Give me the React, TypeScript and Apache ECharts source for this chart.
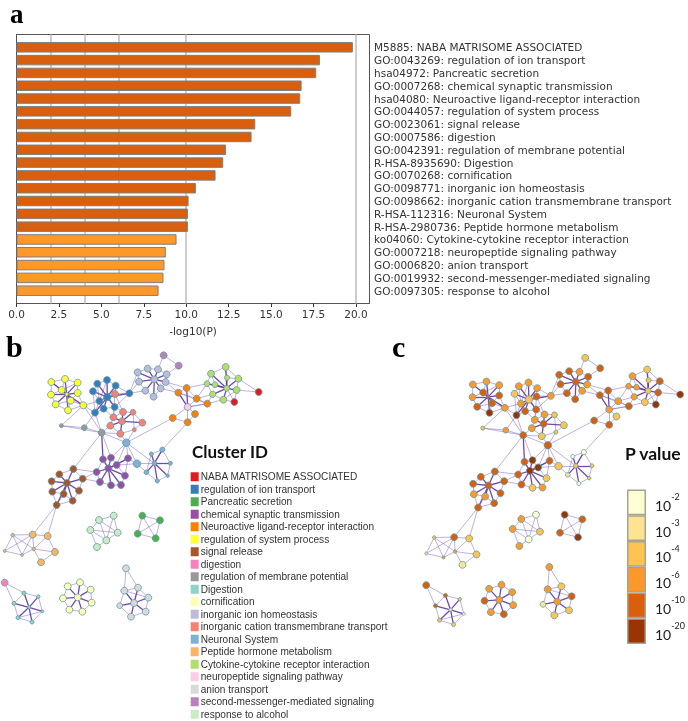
import React, { useEffect, useRef } from "react";
import * as echarts from "echarts";

// ---------- panel a ----------
const termLabels = [
  "M5885: NABA MATRISOME ASSOCIATED",
  "GO:0043269: regulation of ion transport",
  "hsa04972: Pancreatic secretion",
  "GO:0007268: chemical synaptic transmission",
  "hsa04080: Neuroactive ligand-receptor interaction",
  "GO:0044057: regulation of system process",
  "GO:0023061: signal release",
  "GO:0007586: digestion",
  "GO:0042391: regulation of membrane potential",
  "R-HSA-8935690: Digestion",
  "GO:0070268: cornification",
  "GO:0098771: inorganic ion homeostasis",
  "GO:0098662: inorganic cation transmembrane transport",
  "R-HSA-112316: Neuronal System",
  "R-HSA-2980736: Peptide hormone metabolism",
  "ko04060: Cytokine-cytokine receptor interaction",
  "GO:0007218: neuropeptide signaling pathway",
  "GO:0006820: anion transport",
  "GO:0019932: second-messenger-mediated signaling",
  "GO:0097305: response to alcohol",
];
const termValues = [19.82, 17.88, 17.66, 16.8, 16.72, 16.19, 14.07, 13.85, 12.34, 12.18, 11.73, 10.57, 10.14, 10.1, 10.1, 9.43, 8.8, 8.72, 8.66, 8.37];
const termBins = [4, 4, 4, 4, 4, 4, 4, 4, 4, 4, 4, 4, 4, 4, 4, 3, 3, 3, 3, 3];
const referenceLines = [2, 4, 6, 10, 20];

// ---------- colour scale (panel c and the bars) ----------
const pLabels = ["-2", "-3", "-4", "-6", "-10", "-20"];
const pColors = ["#FFFFD4", "#FEE391", "#FEC44F", "#FE9929", "#D95F0E", "#993404"];
const pSteps = [1, 1, 1, 1, 1, 1];

// ---------- clusters ----------
const clusterNames = [
  "NABA MATRISOME ASSOCIATED", "regulation of ion transport", "Pancreatic secretion", "chemical synaptic transmission",
  "Neuroactive ligand-receptor interaction", "regulation of system process", "signal release", "digestion",
  "regulation of membrane potential", "Digestion", "cornification", "inorganic ion homeostasis",
  "inorganic cation transmembrane transport", "Neuronal System", "Peptide hormone metabolism",
  "Cytokine-cytokine receptor interaction", "neuropeptide signaling pathway", "anion transport",
  "second-messenger-mediated signaling", "response to alcohol",
];
const clusterKeys = ["R", "I", "P", "S", "N", "Y", "B", "G", "M", "D", "C", "H", "T", "U", "O", "K", "E", "A", "Q", "L"];
const clusterColors = ["#E41A1C", "#377EB8", "#4DAF4A", "#984EA3", "#FF7F00", "#FFFF33", "#A65628", "#F781BF", "#999999", "#8DD3C7", "#FFFFB3", "#BEBADA", "#FB8072", "#80B1D3", "#FDB462", "#B3DE69", "#FCCDE5", "#D9D9D9", "#BC80BD", "#CCEBC5"];

// node: layout x, layout y, size, P-value class
const nodesR = [[776, 171, 6, 5], [703, 201, 6, 5]];
const nodesI = [[292, 146, 6, 3], [321, 135, 6, 3], [347, 152, 6, 3], [279, 169, 6, 2], [322, 186, 6.5, 2], [298, 198, 6, 3], [388, 175, 6, 3], [344, 216, 6, 4], [311, 221, 6, 4], [285, 233, 6, 5]];
const nodesP = [[427, 542, 6, 5], [480, 556, 6, 4], [413, 596, 6, 4], [467, 610, 6, 5]];
const nodesS = [[309, 373, 6, 4], [333, 368, 6, 5], [384, 370, 6, 4], [290, 411, 6, 4], [325, 400, 6, 5], [350, 390, 6, 5], [375, 422, 6, 2], [300, 441, 6, 4], [333, 451, 6, 2], [363, 450, 6, 3]];
const nodesN = [[535, 173, 6, 4], [560, 159, 6, 4], [590, 191, 6, 3], [622, 206, 6, 4], [518, 249, 6, 4], [585, 237, 6, 2], [563, 262, 6, 4]];
const nodesY = [[154, 141, 6, 3], [195, 132, 6, 3], [233, 143, 6, 3], [185, 165, 6, 4], [153, 179, 6, 3], [233, 174, 6, 4], [167, 208, 6, 4], [204, 226, 6, 5], [250, 211, 6, 3], [212, 197, 6, 4], [200, 178, 3, 4]];
const nodesB = [[178, 418, 6, 4], [220, 402, 6, 4], [155, 439, 6, 4], [201, 444, 6, 4], [248, 431, 6, 4], [157, 470, 6, 3], [237, 467, 6, 4], [191, 477, 6, 3], [218, 497, 6, 4], [170, 510, 6, 4]];
const nodesG = [[14, 743, 6, 4]];
const nodesM = [[184, 272, 3.5, 2], [253, 278, 5, 3], [305, 293, 6, 4]];
const nodesD = [[72, 774, 3.5, 4], [115, 785, 3, 2], [42, 805, 3.5, 4], [87, 817, 3, 1], [127, 829, 2.5, 0], [54, 848, 3.5, 2], [96, 861, 3.5, 2]];
const nodesC = [[203, 754, 6, 3], [240, 742, 6, 3], [272, 764, 6, 3], [189, 790, 6, 4], [233, 787, 6, 3], [275, 803, 6, 3], [208, 824, 6, 3], [247, 830, 6, 4]];
const nodesH = [[413, 112, 6, 4], [443, 101, 6, 4], [474, 103, 6, 3], [500, 118, 6, 4], [417, 140, 6, 4], [463, 133, 6, 4], [497, 141, 6, 3], [436, 167, 6, 4], [482, 160, 6, 3], [461, 185, 6, 4]];
const nodesT = [[345, 177, 6, 4], [340, 247, 6, 3], [369, 231, 6, 3], [399, 232, 5, 2], [366, 259, 6, 4], [427, 263, 6, 2], [331, 272, 6, 3], [361, 296, 6, 2], [403, 284, 3.5, 2]];
const nodesU = [[379, 323, 6.5, 4], [411, 386, 6.5, 2], [439, 412, 4, 1], [463, 385, 4, 2], [487, 344, 4.5, 0], [511, 385, 3.5, 2], [454, 357, 3.5, 0], [472, 438, 3.5, 0], [503, 422, 3, 2]];
const nodesO = [[98, 599, 6, 4], [143, 603, 6, 2], [165, 651, 6, 2], [123, 682, 6, 1], [38, 600, 3, 2], [14, 648, 2.5, 1], [66, 660, 2.5, 3], [101, 642, 3, 3]];
const nodesK = [[633, 116, 6, 3], [677, 96, 6, 2], [715, 131, 6, 4], [621, 146, 5, 3], [645, 149, 5, 3], [681, 128, 4.5, 2], [680, 160, 5, 2], [710, 165, 6, 4], [638, 178, 5.5, 3], [670, 194, 6, 2]];
const nodesE = [[563, 216, 6, 3]];
const nodesA = [[378, 700, 6, 3], [373, 767, 6, 3], [414, 758, 6, 2], [445, 788, 6, 4], [402, 804, 6, 3], [359, 812, 5, 1], [437, 830, 6, 2], [393, 845, 6, 2]];
const nodesQ = [[491, 61, 6, 2], [536, 92, 6, 4]];
const nodesL = [[297, 555, 6, 3], [341, 542, 6, 0], [271, 585, 6, 3], [353, 593, 6, 2], [319, 616, 6, 0], [291, 636, 6, 3]];
const clusterNodes = [nodesR, nodesI, nodesP, nodesS, nodesN, nodesY, nodesB, nodesG, nodesM, nodesD, nodesC, nodesH, nodesT, nodesU, nodesO, nodesK, nodesE, nodesA, nodesQ, nodesL];
// extra shift of a cluster in panel c (layout units)
const panelCShift: Record<string, number[]> = { P: [2.5, -10.5], L: [2.5, -10.5], A: [5.5, -11.5] };

const strongLinks: [string, string][] = [
  ["Y10", "Y0 Y1 Y2 Y3 Y4 Y5 Y6 Y7 Y8 Y9"],
  ["I4", "I0 I1 I2 I3 I5 I6 I7 I8 I9"],
  ["T4", "T1 T2 T3 T5 T6 T7"],
  ["H5", "H0 H1 H2 H3 H4 H6 H7 H8 H9"],
  ["K6", "K0 K1 K2 K3 K4 K5 K7 K8 K9"],
  ["U3", "U2 U4 U5 U6 U7 U8"],
  ["S4", "S0 S1 S2 S3 S5 S6 S7 S8 S9"],
  ["B3", "B0 B1 B2 B4 B5 B6 B7 B8 B9"],
  ["C4", "C0 C1 C2 C3 C5 C6 C7"],
  ["A4", "A1 A2 A3 A5 A6 A7"],
  ["D3", "D0 D1 D2 D4 D5 D6"],
  ["M2", "S0"],
  ["E0", "N0 N1"],
];
const weakLinks: [string, string][] = [
  ["Y0", "Y1 Y3 Y4"], ["Y1", "Y2 Y3"], ["Y2", "Y5 Y3"], ["Y4", "Y6 Y3"], ["Y5", "Y8 Y9"], ["Y6", "Y7 Y9"], ["Y7", "Y9 Y8"], ["Y8", "Y9 I9 I5 M2 M0"],
  ["I0", "I1 I3 I5"], ["I1", "I2 I5"], ["I2", "I6 T0"], ["I3", "I5 I9"], ["I5", "I8 I9"], ["I6", "I7 T0 H4 H7 H0"], ["I7", "I8 T1 T2"], ["I8", "I9 T1"], ["I9", "M1 M2"],
  ["T0", "T1 T2"], ["T1", "T2 T6"], ["T2", "T3"], ["T3", "T5 T8"], ["T5", "T8"], ["T7", "T8 T6 U0"], ["T6", "M2"],
  ["M0", "M1 M2"], ["M1", "M2"], ["M2", "T7 U0 S1 B1"],
  ["U0", "S1 S2 S5 U1 U3 T8 N4"], ["U1", "S2 S5 U3 U2"], ["U4", "N6 U6 U5 U3"], ["U5", "U8"], ["U8", "U7"], ["U2", "U7 U6"],
  ["H0", "H1 H4"], ["H1", "H2"], ["H2", "H3 Q0"], ["H3", "H6 Q1"], ["H4", "H7"], ["H6", "H8 N0 N1"], ["H7", "H9"], ["H8", "H9 N0"], ["Q0", "Q1"],
  ["N0", "N1 N2 N3"], ["N1", "N2 K3"], ["N2", "N3 E0 K3 K8"], ["N3", "E0 K8 K9"], ["N4", "E0 N6"], ["N5", "E0 N6"], ["N6", "E0"], ["E0", "N3 N0"],
  ["K0", "K1 K3 K4"], ["K1", "K2 K5"], ["K2", "K5 K7 R0"], ["K3", "K4 K8"], ["K7", "K9 R0 R1"], ["K8", "K9"], ["K9", "R1"], ["K6", "R1"],
  ["S0", "S1 S3"], ["S1", "S5"], ["S2", "S5 S6"], ["S3", "S7 B4 B1"], ["S5", "S6"], ["S6", "S9"], ["S7", "S8 B4"], ["S8", "S9"],
  ["B0", "B1 B2"], ["B1", "B4"], ["B2", "B5"], ["B4", "B6"], ["B5", "B7 B9"], ["B6", "B8"], ["B7", "B8 B9"], ["B8", "B9"], ["B9", "O0 O1"],
  ["O0", "O1 O4 O6 O7 O5"], ["O1", "O7 O2"], ["O2", "O3 O7"], ["O3", "O7"], ["O4", "O5 O6 O7"], ["O5", "O6"], ["O6", "O7"],
  ["L0", "L1 L2 L3 L4"], ["L1", "L3 L4"], ["L2", "L3 L4 L5"], ["L3", "L4"], ["L4", "L5"],
  ["P0", "P1 P2 P3"], ["P1", "P2 P3"], ["P2", "P3"],
  ["G0", "D0 D2"], ["D0", "D1 D2"], ["D1", "D4"], ["D2", "D5"], ["D4", "D6 D5"], ["D5", "D6"],
  ["C0", "C1 C3"], ["C1", "C2"], ["C2", "C5"], ["C3", "C6"], ["C5", "C7"], ["C6", "C7"],
  ["A0", "A1 A2"], ["A1", "A2 A5 A3"], ["A2", "A3"], ["A3", "A6"], ["A5", "A7"], ["A6", "A7"],
];

const expandLinks = (list: [string, string][], lineStyle: object) =>
  list.flatMap(([s, ts]) => ts.split(" ").map((t) => ({ source: s, target: t, lineStyle })));

const networkLinks = [
  ...expandLinks(weakLinks, { width: 1, color: "rgba(130,100,190,0.5)", opacity: 1 }),
  ...expandLinks(strongLinks, { width: 1.3, color: "rgba(95,55,165,0.9)", opacity: 1 }),
];

const NODE_SCALE = 1.15;
const nodesPanelB = clusterKeys.flatMap((k, ci) =>
  clusterNodes[ci].map((n, i) => ({ name: k + i, value: [n[0], n[1]], symbolSize: n[2] * NODE_SCALE, category: ci }))
);
const nodesPanelC = clusterKeys.flatMap((k, ci) => {
  const sh = panelCShift[k] || [0, 0];
  return clusterNodes[ci].map((n, i) => ({
    name: k + i,
    value: [n[0] + sh[0], n[1] + sh[1]],
    symbolSize: n[2] * NODE_SCALE,
    itemStyle: { color: pColors[n[3]] },
  }));
});

const DEJAVU = "'DejaVu Sans'";
const LIB = "'Liberation Sans'";

export default function App() {
  const ref = useRef<HTMLDivElement>(null);
  useEffect(() => {
    document.body.style.margin = "0";
    document.body.style.background = "#fff";
    const chart = echarts.init(ref.current!, undefined, { renderer: "svg" });
    const graphBase = {
      type: "graph",
      coordinateSystem: "cartesian2d",
      roam: false,
      animation: false,
      silent: true,
      links: networkLinks,
      label: { show: false },
      emphasis: { disabled: true },
      itemStyle: { borderColor: "#5E9AA6", borderWidth: 0.8 },
      z: 3,
    };
    chart.setOption({
      animation: false,
      backgroundColor: "#fff",
      textStyle: { fontFamily: DEJAVU },
      grid: [
        { left: 16.5, top: 34.5, width: 353, height: 269, show: true, borderColor: "#555", borderWidth: 1, backgroundColor: "#fff" },
        { left: 0, top: 335, width: 290, height: 386, show: false },
        { left: 421.5, top: 337.5, width: 266.5, height: 383.5, show: false },
        { left: 627, top: 489.5, width: 24, height: 154.5, show: false },
      ],
      xAxis: [
        {
          gridIndex: 0, type: "value", min: 0, max: 20.8, interval: 2.5,
          name: "-log10(P)", nameLocation: "middle", nameGap: 22,
          nameTextStyle: { fontFamily: DEJAVU, fontSize: 10.5, color: "#333" },
          axisLine: { show: true, lineStyle: { color: "#555", width: 1 } },
          axisTick: { show: true, length: 3.5, lineStyle: { color: "#333" } },
          axisLabel: { fontFamily: DEJAVU, fontSize: 10.5, color: "#333", margin: 5, showMaxLabel: false, formatter: (v: number) => v.toFixed(1) },
          splitLine: { show: false },
        },
        { gridIndex: 1, type: "value", min: 0, max: 870, show: false },
        { gridIndex: 2, type: "value", min: 0, max: 799.5, show: false },
        { gridIndex: 3, type: "value", min: 0, max: 1, show: false },
      ],
      yAxis: [
        {
          gridIndex: 0, type: "category", inverse: true, position: "right", boundaryGap: false,
          data: ["", ...termLabels, ""],
          axisLine: { show: true, lineStyle: { color: "#555", width: 1 } },
          axisTick: { show: false },
          splitLine: { show: false },
          axisLabel: { fontFamily: DEJAVU, fontSize: 10.5, color: "#333", margin: 4.5, interval: 0 },
        },
        { gridIndex: 1, type: "value", inverse: true, min: 0, max: 1158, show: false },
        { gridIndex: 2, type: "value", inverse: true, min: 0, max: 1150.5, show: false },
        {
          gridIndex: 3, type: "category", inverse: true, position: "right",
          data: pLabels,
          axisLine: { show: false },
          axisTick: { show: false },
          axisLabel: {
            margin: 9,
            interval: 0,
            formatter: (v: string) => `{b|10}{s|${v}}`,
            rich: {
              b: { fontFamily: "Lato", fontSize: 14, color: "#222", lineHeight: 20, verticalAlign: "bottom" },
              s: { fontFamily: "Lato", fontSize: 9, color: "#222", lineHeight: 20, verticalAlign: "top" },
            },
          },
        },
      ],
      legend: {
        data: clusterNames,
        orient: "vertical",
        left: 190.7,
        top: 471,
        height: 300,
        padding: 0,
        icon: "rect",
        itemWidth: 8,
        itemHeight: 9,
        itemGap: 1,
        selectedMode: false,
        itemStyle: { borderWidth: 0 },
        textStyle: { fontFamily: LIB, fontSize: 10.1, color: "#333", lineHeight: 11.5, padding: [0, 0, 0, -3] },
      },
      series: [
        {
          type: "bar",
          xAxisIndex: 0,
          yAxisIndex: 0,
          z: 2,
          barWidth: 10.5,
          silent: true,
          itemStyle: { borderColor: "#7f7f7f", borderWidth: 1 },
          data: [null, ...termValues.map((v, i) => ({ value: v, itemStyle: { color: pColors[termBins[i]] } })), null],
          markLine: {
            z: 1,
            silent: true,
            symbol: "none",
            label: { show: false },
            lineStyle: { color: "#bdbdbd", width: 1.5, type: "solid" },
            data: referenceLines.map((x) => ({ xAxis: x })),
          },
        },
        {
          ...graphBase,
          xAxisIndex: 1,
          yAxisIndex: 1,
          categories: clusterNames.map((name, i) => ({ name, itemStyle: { color: clusterColors[i] } })),
          data: nodesPanelB,
        },
        {
          ...graphBase,
          xAxisIndex: 2,
          yAxisIndex: 2,
          data: nodesPanelC,
        },
        {
          type: "bar",
          xAxisIndex: 3,
          yAxisIndex: 3,
          barWidth: "100%",
          silent: true,
          itemStyle: { borderColor: "#a8a295", borderWidth: 1.5 },
          data: pSteps.map((v, i) => ({ value: v, itemStyle: { color: pColors[i] } })),
        },
      ],
      graphic: [
        { type: "text", x: 10, y: 0, style: { text: "a", font: "bold 27px 'Liberation Serif'", lineHeight: 27, fill: "#000" } },
        { type: "text", x: 6, y: 331, style: { text: "b", font: "bold 30px 'Liberation Serif'", fill: "#000" } },
        { type: "text", x: 392, y: 331, style: { text: "c", font: "bold 30px 'Liberation Serif'", fill: "#000" } },
        { type: "text", x: 192, y: 443, style: { text: "Cluster ID", font: "bold 17px Lato", fill: "#111" } },
        { type: "text", x: 625, y: 444, style: { text: "P value", font: "bold 17.5px Lato", fill: "#111" } },
      ],
    });
    return () => chart.dispose();
  }, []);
  return <div ref={ref} style={{ width: 688, height: 721, filter: "blur(0.35px)" }} />;
}
